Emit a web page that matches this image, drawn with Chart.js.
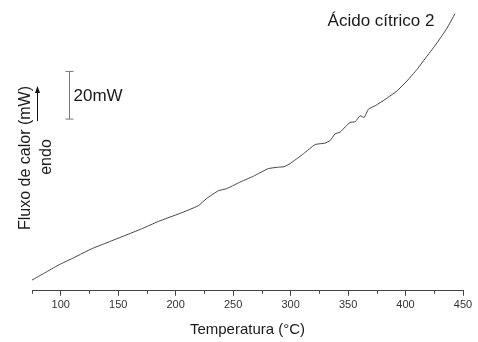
<!DOCTYPE html>
<html>
<head>
<meta charset="utf-8">
<script src="https://cdn.jsdelivr.net/npm/chart.js@4/dist/chart.umd.min.js"></script>
<style>
  html, body { margin: 0; padding: 0; background: #fff; }
  #wrap { width: 478px; height: 342px; }
</style>
</head>
<body>
<div id="wrap"><canvas id="dsc" width="478" height="342"></canvas></div>
<script>
// DSC curve (temperature in °C, heat flow in mW, arbitrary offset)
const temperature = [75.0, 86.1, 97.6, 112.2, 126.7, 141.2, 155.8, 170.3, 184.8, 203.7,
  219.6, 227.0, 237.1, 244.4, 254.5, 267.6, 280.6, 289.3, 294.3, 299.5,
  311.1, 321.3, 330.0, 334.4, 338.7, 343.1, 347.5, 351.8, 356.2, 360.5,
  364.0, 367.8, 373.6, 382.3, 392.5, 401.2, 409.9, 418.6, 427.4, 436.1, 443.0];
const heatFlow = [7.4, 10.4, 13.6, 17.0, 20.5, 23.3, 26.1, 28.9, 32.0, 35.4,
  38.6, 41.7, 44.9, 45.8, 48.2, 51.0, 54.2, 54.8, 55.0, 56.3,
  60.4, 64.3, 64.9, 66.0, 68.8, 69.5, 71.7, 73.6, 73.9, 76.4,
  75.7, 79.2, 80.6, 83.3, 86.8, 91.0, 95.8, 101.4, 107.0, 113.2, 119.2];
const xTicks = [100, 150, 200, 250, 300, 350, 400, 450];
const seriesName = 'Ácido cítrico 2';
const scaleBar = [75, 95]; // 20 mW

const FONT = '"Liberation Sans", Arial, sans-serif';
Chart.defaults.font.family = FONT;

const annotate = {
  id: 'annotate',
  afterDraw(chart) {
    const c = chart.ctx;
    const xs = chart.scales.x, ys = chart.scales.y;
    c.save();
    c.fillStyle = '#1a1a1a';
    c.strokeStyle = '#444';

    // minor ticks
    c.lineWidth = 1;
    const yb = chart.chartArea.bottom;
    for (let v = 75; v < 450; v += 50) {
      const px = Math.round(xs.getPixelForValue(v)) + 0.5;
      c.beginPath(); c.moveTo(px, yb); c.lineTo(px, yb + 3); c.stroke();
    }

    // y axis title + endo arrow
    c.font = '16px ' + FONT;
    c.textAlign = 'center';
    c.textBaseline = 'middle';
    c.save();
    c.translate(26, 158);
    c.rotate(-Math.PI / 2);
    c.fillText('Fluxo de calor (mW)', 0, 0);
    c.restore();
    c.save();
    c.translate(47, 157);
    c.rotate(-Math.PI / 2);
    c.fillText('endo', 0, 0);
    c.restore();

    c.strokeStyle = '#111';
    c.beginPath(); c.moveTo(37.5, 121); c.lineTo(37.5, 89); c.stroke();
    c.fillStyle = '#111';
    c.beginPath(); c.moveTo(37.5, 86); c.lineTo(35, 93); c.lineTo(40, 93); c.closePath(); c.fill();

    // scale bar
    const bx = Math.round(xs.getPixelForValue(107)) + 0.5;
    const y0 = ys.getPixelForValue(scaleBar[0]);
    const y1 = ys.getPixelForValue(scaleBar[1]);
    c.strokeStyle = '#777';
    c.beginPath();
    c.moveTo(bx, y0); c.lineTo(bx, y1);
    c.moveTo(bx - 4, y0); c.lineTo(bx + 4, y0);
    c.moveTo(bx - 4, y1); c.lineTo(bx + 4, y1);
    c.stroke();
    c.fillStyle = '#1a1a1a';
    c.textAlign = 'left';
    c.font = '17px ' + FONT;
    c.fillText('20mW', bx + 4, (y0 + y1) / 2 + 1);

    // curve label
    c.textAlign = 'center';
    c.fillText(seriesName, 381, 21);
    c.restore();
  }
};

new Chart(document.getElementById('dsc'), {
  type: 'line',
  data: {
    datasets: [{
      label: seriesName,
      data: temperature.map((t, i) => ({ x: t, y: heatFlow[i] })),
      borderColor: '#444',
      borderWidth: 1,
      pointRadius: 0,
      tension: 0.15,
      fill: false
    }]
  },
  options: {
    responsive: false,
    animation: false,
    layout: { padding: { left: 32, right: 15, top: 5, bottom: 0 } },
    plugins: { legend: { display: false }, tooltip: { enabled: false } },
    scales: {
      x: {
        type: 'linear',
        min: 75,
        max: 450,
        afterBuildTicks: (scale) => { scale.ticks = xTicks.map(v => ({ value: v })); },
        ticks: { color: '#333', font: { size: 11 }, padding: 3, maxRotation: 0 },
        grid: { drawOnChartArea: false, tickLength: 5, tickColor: '#444' },
        border: { display: true, color: '#444', width: 1 },
        title: {
          display: true,
          text: 'Temperatura (°C)',
          color: '#1a1a1a',
          font: { size: 15 },
          padding: { top: 6, bottom: 3 }
        }
      },
      y: { display: false, min: 2.9, max: 122.9 }
    }
  },
  plugins: [annotate]
});
</script>
</body>
</html>
